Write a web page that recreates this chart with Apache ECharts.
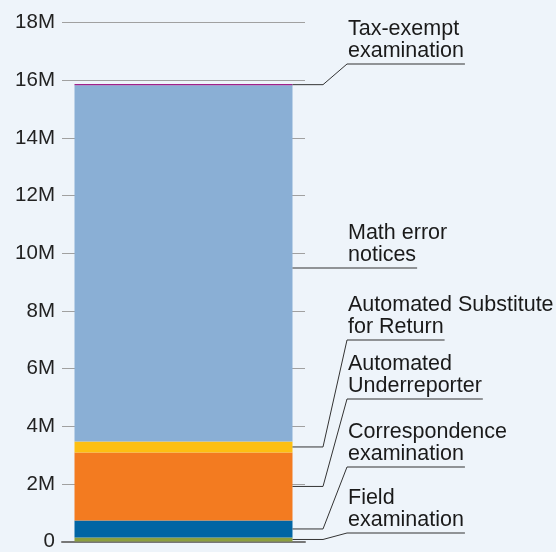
<!DOCTYPE html>
<html>
<head>
<meta charset="utf-8">
<script src="https://cdn.jsdelivr.net/npm/echarts@6/dist/echarts.min.js"></script>
<style>
  html, body { margin: 0; padding: 0; background: #eef4fa; }
  #chart { width: 556px; height: 552px; }
</style>
</head>
<body>
<div id="chart"></div>
<script>
// stacked from bottom to top, values in returns
const categories = ['Total'];
const seriesNames = ['Field\nexamination', 'Correspondence\nexamination', 'Automated\nUnderreporter',
  'Automated Substitute\nfor Return', 'Math error\nnotices', 'Tax-exempt\nexamination'];
const seriesValues = [140000, 590000, 2360000, 380000, 12360000, 40000];
const seriesColors = ['#8c9f3e', '#0065a4', '#f37b20', '#fdbf12', '#8aafd5', '#a0208a'];
const yTicks = [0, 2e6, 4e6, 6e6, 8e6, 10e6, 12e6, 14e6, 16e6, 18e6];

// where the annotation underlines sit (pixel y), same order as series
const labelLineY = [533, 467, 399, 340, 268, 64];

const FONT = '"Liberation Sans", Arial, Helvetica, sans-serif';
const LABEL_FONT = '21.5px ' + FONT;
const BAR_W = 218;

const chart = echarts.init(document.getElementById('chart'));

chart.setOption({
  backgroundColor: '#eef4fa',
  animation: false,
  grid: { left: 62, right: 251, top: 22.7, bottom: 10.3 },
  xAxis: {
    type: 'category',
    data: categories,
    axisLine: { show: true, lineStyle: { color: '#777', width: 2 } },
    axisTick: { show: false },
    axisLabel: { show: false }
  },
  yAxis: {
    type: 'value',
    min: yTicks[0],
    max: yTicks[yTicks.length - 1],
    interval: yTicks[1] - yTicks[0],
    axisLine: { show: false },
    axisTick: { show: false },
    splitLine: { lineStyle: { color: '#a0a0a0', width: 1 } },
    axisLabel: {
      color: '#222',
      fontFamily: FONT,
      fontSize: 20.5,
      margin: 7,
      formatter: v => v === 0 ? '0' : (v / 1e6) + 'M'
    }
  },
  series: seriesNames.map((name, i) => ({
    name: name,
    type: 'bar',
    stack: 'all',
    barWidth: BAR_W,
    itemStyle: { color: seriesColors[i] },
    data: [seriesValues[i]]
  }))
});

// annotations: leader lines + labels, positioned from the axis scale
const ctx = document.createElement('canvas').getContext('2d');
ctx.font = LABEL_FONT;

const barCenter = chart.convertToPixel({ xAxisIndex: 0 }, 0);
const barRight = barCenter + BAR_W / 2;
const textX = 348;

let cum = 0;
const graphics = [];
seriesNames.forEach((name, i) => {
  const lowY = chart.convertToPixel({ yAxisIndex: 0 }, cum);
  const highY = chart.convertToPixel({ yAxisIndex: 0 }, cum + seriesValues[i]);
  cum += seriesValues[i];
  const ly = labelLineY[i];
  let anchor = (lowY + highY) / 2;
  if (ly < lowY && ly > highY && Math.abs(ly - anchor) < 20) anchor = ly;

  // underline runs under the last line of the label
  const lines = name.split('\n');
  const textW = ctx.measureText(lines[lines.length - 1]).width;
  const pts = anchor === ly
    ? [[barRight, ly], [textX + textW + 1, ly]]
    : [[barRight, anchor], [barRight + 30.5, anchor], [textX - 1, ly], [textX + textW + 1, ly]];

  graphics.push({
    type: 'polyline',
    shape: { points: pts },
    style: { stroke: '#333', lineWidth: 1, fill: null },
    z: 10
  });
  graphics.push({
    type: 'text',
    x: textX,
    y: ly - 2,
    style: {
      text: name,
      fill: '#1a1a1a',
      font: LABEL_FONT,
      lineHeight: 22,
      align: 'left',
      verticalAlign: 'bottom'
    },
    z: 10
  });
});

chart.setOption({ graphic: graphics });
</script>
</body>
</html>
